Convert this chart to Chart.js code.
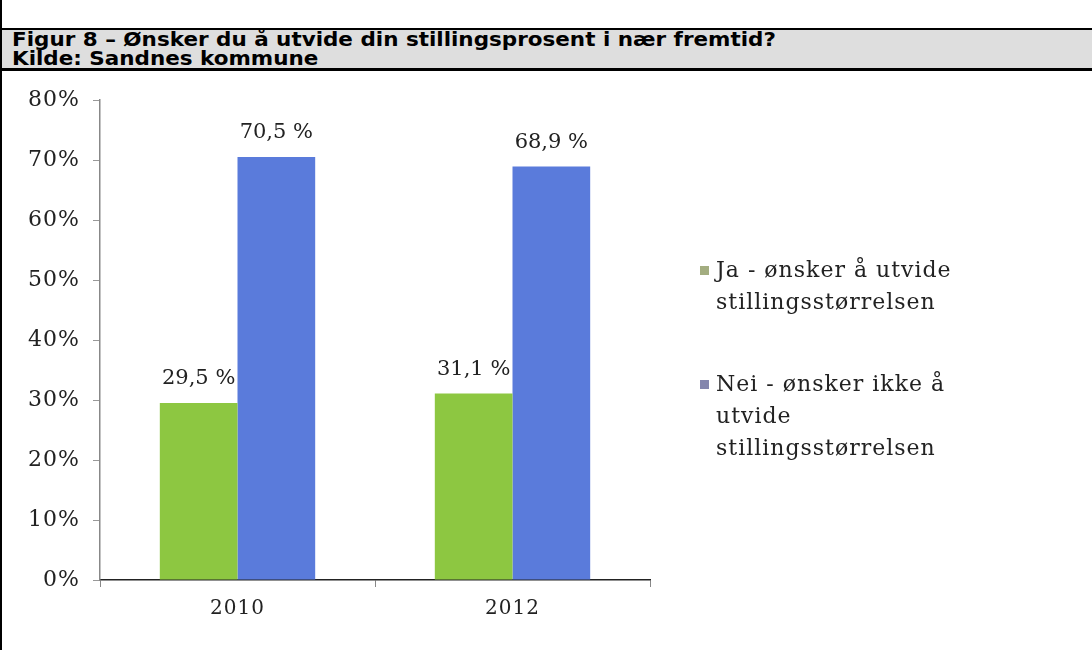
<!DOCTYPE html>
<html>
<head>
<meta charset="utf-8">
<script src="https://cdn.jsdelivr.net/npm/chart.js@4"></script>
<style>
  html, body { margin: 0; padding: 0; background: #fff; }
  body { width: 1092px; height: 650px; position: relative; overflow: hidden; }
  #wrap { position: absolute; left: 0; top: 0; width: 1092px; height: 650px; }
  #frame {
    position: absolute; left: 0; top: 0; width: 1092px; height: 650px;
    border-left: 2px solid #000; box-sizing: border-box; pointer-events: none;
  }
  #head {
    position: absolute; left: 0; top: 28px; width: 1090px; height: 38px;
    background: #dedede; border-top: 2px solid #000; border-bottom: 3px solid #000;
    border-left: 2px solid #000;
    font: bold 19px "DejaVu Sans", Verdana, sans-serif; color: #000;
    line-height: 19px; overflow: hidden;
  }
  #head div { padding-left: 10px; white-space: nowrap; transform: scaleX(1.13); transform-origin: 10px 0; }
  #head .l1 { margin-top: 0; }
</style>
</head>
<body>
<div id="wrap"><canvas id="myChart"></canvas></div>
<div id="frame"></div>
<div id="head">
  <div class="l1">Figur 8 – Ønsker du å utvide din stillingsprosent i nær fremtid?</div>
  <div>Kilde: Sandnes kommune</div>
</div>
<script>
const years = ['2010', '2012'];
const jaValues = [29.5, 31.1];
const neiValues = [70.5, 68.9];
const seriesLabels = ['Ja - ønsker å utvide stillingsstørrelsen', 'Nei - ønsker ikke å utvide stillingsstørrelsen'];
const legendLines = [
    ['Ja - ønsker å utvide', 'stillingsstørrelsen'],
    ['Nei - ønsker ikke å', 'utvide', 'stillingsstørrelsen']
];
const legendColors = ['#a3ad80', '#8486ad'];

const serif = '"DejaVu Serif", "Liberation Serif", serif';

const formatValue = (v) => v.toFixed(1).replace('.', ',') + ' %';

// a bit of tracking for the axis text
const spacing = {
    id: 'spacing',
    beforeDraw(chart) {
        chart.ctx.letterSpacing = '1px';
    }
};

// value above each bar
const valueLabels = {
    id: 'valueLabels',
    afterDatasetsDraw(chart) {
        const ctx = chart.ctx;
        ctx.save();
        ctx.letterSpacing = '0px';
        ctx.font = '21px ' + serif;
        ctx.fillStyle = '#222';
        ctx.textAlign = 'center';
        ctx.textBaseline = 'middle';
        chart.data.datasets.forEach((ds, i) => {
            chart.getDatasetMeta(i).data.forEach((bar, j) => {
                ctx.fillText(formatValue(ds.data[j]), bar.x, bar.y - 24);
            });
        });
        ctx.restore();
    }
};

// legend on the right with wrapped lines
const sideLegend = {
    id: 'sideLegend',
    afterDraw(chart) {
        const ctx = chart.ctx;
        const area = chart.chartArea;
        const x = area.right + 50;
        let y = area.top + 171;
        ctx.save();
        ctx.letterSpacing = '1px';
        ctx.font = '22px ' + serif;
        ctx.textAlign = 'left';
        ctx.textBaseline = 'middle';
        legendLines.forEach((lines, i) => {
            ctx.fillStyle = legendColors[i];
            ctx.fillRect(x, y - 5, 9, 9);
            ctx.fillStyle = '#222';
            lines.forEach((line, k) => {
                ctx.fillText(line, x + 16, y + k * 32);
            });
            y += (lines.length - 1) * 32 + 82;
        });
        ctx.restore();
    }
};

const ctx = document.getElementById('myChart');

const myChart = new Chart(ctx, {
    type: 'bar',
    data: {
        labels: years,
        datasets: [{
            label: seriesLabels[0],
            data: jaValues,
            backgroundColor: '#8dc741'
        }, {
            label: seriesLabels[1],
            data: neiValues,
            backgroundColor: '#5a7bdb'
        }]
    },
    options: {
        responsive: true,
        maintainAspectRatio: false,
        animation: false,
        categoryPercentage: 0.565,
        barPercentage: 1,
        layout: {
            padding: { top: 100, right: 442, bottom: 0, left: 0 }
        },
        plugins: {
            legend: { display: false },
            tooltip: { enabled: false }
        },
        scales: {
            x: {
                afterFit: (scale) => { scale.height = 70; },
                border: { color: '#222', width: 1.5 },
                grid: {
                    drawOnChartArea: false,
                    drawTicks: true,
                    tickLength: 7,
                    color: '#888',
                    offset: true
                },
                ticks: {
                    font: { family: serif, size: 20 },
                    color: '#222',
                    padding: 10
                }
            },
            y: {
                min: 0,
                max: 80,
                afterFit: (scale) => { scale.width = 100; },
                border: { color: '#888', width: 1.5 },
                grid: {
                    drawOnChartArea: false,
                    drawTicks: true,
                    tickLength: 7,
                    color: '#999'
                },
                ticks: {
                    stepSize: 10,
                    font: { family: serif, size: 22 },
                    color: '#222',
                    padding: 13,
                    callback: (v) => v + '%'
                }
            }
        }
    },
    plugins: [spacing, valueLabels, sideLegend]
});
</script>
</body>
</html>
